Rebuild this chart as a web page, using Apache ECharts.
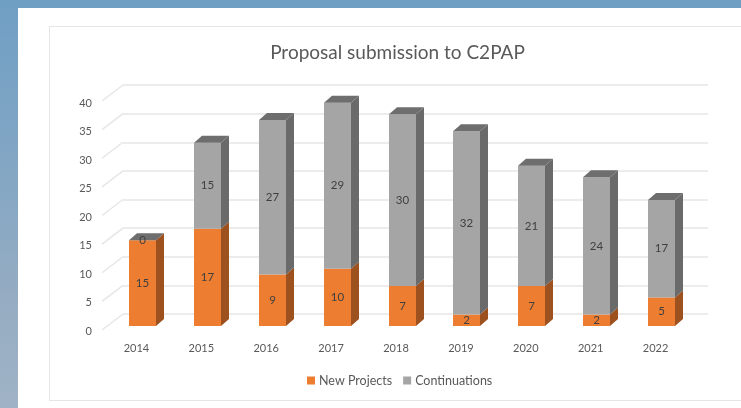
<!DOCTYPE html>
<html>
<head>
<meta charset="utf-8">
<title>Proposal submission to C2PAP</title>
<script src="https://cdn.jsdelivr.net/npm/echarts@6/dist/echarts.min.js"></script>
<style>
html, body { margin: 0; height: 100%; overflow: hidden; }
body { background: linear-gradient(180deg, #6f9fc4 0%, #85a7c4 45%, #95acc2 73%, #a0b3c6 100%); }
#panel { position: absolute; left: 18px; top: 8px; width: 723px; height: 400px; background: #fff; }
#frame { position: absolute; left: 49px; top: 26px; width: 700px; height: 375px; border: 1px solid #e6e6e6; box-sizing: border-box; }
#chart { position: absolute; left: 0; top: 0; width: 741px; height: 408px; filter: blur(0.7px); }
</style>
</head>
<body>
<div id="panel"></div>
<div id="frame"></div>
<div id="chart"></div>
<script>
const years = ['2014', '2015', '2016', '2017', '2018', '2019', '2020', '2021', '2022']
const newProjects = [15, 17, 9, 10, 7, 2, 7, 2, 5]
const continuations = [0, 15, 27, 29, 30, 32, 21, 24, 17]
const yTicks = [0, 5, 10, 15, 20, 25, 30, 35, 40]

const chart = echarts.init(document.getElementById('chart'))

const TEXT = '#595959'
const FONT = 'Lato, "Open Sans", sans-serif'
const DEPTH_X = 8
const DEPTH_Y = 7

// one stacked segment: front face, side face and top face
function renderBar(front, side, top) {
  return function (params, api) {
    const i = api.value(0)
    const base = api.value(1)
    const end = base + api.value(2)
    const p0 = api.coord([i, base])
    const p1 = api.coord([i, end])
    const w = 27
    const x0 = Math.round(p0[0] - w / 2)
    const x1 = x0 + w
    const y0 = p0[1]
    const y1 = p1[1]
    const children = []
    if (y0 - y1 > 0) {
      children.push({
        type: 'polygon',
        shape: { points: [[x1, y0], [x1 + DEPTH_X, y0 - DEPTH_Y], [x1 + DEPTH_X, y1 - DEPTH_Y], [x1, y1]] },
        style: { fill: side }
      })
      children.push({
        type: 'rect',
        shape: { x: x0, y: y1, width: w, height: y0 - y1 },
        style: { fill: front }
      })
    }
    if (top) {
      children.push({
        type: 'polygon',
        shape: { points: [[x0, y1], [x0 + DEPTH_X, y1 - DEPTH_Y], [x1 + DEPTH_X, y1 - DEPTH_Y], [x1, y1]] },
        style: { fill: top }
      })
    }
    children.push({
      type: 'text',
      style: {
        x: (x0 + x1) / 2,
        y: (y0 + y1) / 2,
        text: String(api.value(2)),
        align: 'center',
        verticalAlign: 'middle',
        fill: '#404040',
        font: '11.5px ' + FONT
      }
    })
    return { type: 'group', children }
  }
}

// slanted floor/wall edge at the left of every gridline
function renderDiagonal(params, api) {
  const p = api.coord([0, api.value(0)])
  return {
    type: 'line',
    shape: { x1: p[0], y1: p[1], x2: p[0] - 21, y2: p[1] + 16 },
    style: { stroke: '#e6e6e6', lineWidth: 1.5 }
  }
}

const option = {
  animation: false,
  backgroundColor: 'transparent',
  textStyle: { fontFamily: FONT },
  title: {
    text: 'Proposal submission to C2PAP',
    left: 392.5,
    top: 38,
    textAlign: 'center',
    textStyle: { color: TEXT, fontSize: 19, fontWeight: 'normal', fontFamily: FONT }
  },
  legend: {
    left: 302,
    top: 369,
    itemWidth: 8,
    itemHeight: 8,
    itemGap: 11,
    icon: 'rect',
    data: ['New Projects', 'Continuations'],
    textStyle: { color: TEXT, fontSize: 12.5, fontFamily: FONT, padding: [0, 0, 0, -1] }
  },
  grid: [
    // back wall
    { left: 123, top: 85, width: 585, height: 229 },
    // bars
    { left: 110, top: 97, width: 584, height: 229 },
    // axis labels
    { left: 104, top: 103, width: 584, height: 228 }
  ],
  xAxis: [
    { gridIndex: 0, type: 'value', min: 0, max: 1, show: false },
    { gridIndex: 1, type: 'value', min: -0.5, max: 8.5, show: false },
    {
      gridIndex: 2,
      type: 'category',
      data: years,
      axisLine: { show: false },
      axisTick: { show: false },
      axisLabel: { color: TEXT, fontSize: 11, margin: 12 }
    }
  ],
  yAxis: [
    {
      gridIndex: 0,
      type: 'value',
      min: 0,
      max: 40,
      interval: 5,
      axisLine: { show: false },
      axisTick: { show: false },
      axisLabel: { show: false },
      splitLine: { lineStyle: { color: '#e6e6e6', width: 1.5 } }
    },
    { gridIndex: 1, type: 'value', min: 0, max: 40, show: false },
    {
      gridIndex: 2,
      type: 'value',
      min: 0,
      max: 40,
      interval: 5,
      axisLine: { show: false },
      axisTick: { show: false },
      splitLine: { show: false },
      axisLabel: { color: TEXT, fontSize: 11, margin: 12 }
    }
  ],
  series: [
    {
      type: 'custom',
      xAxisIndex: 0,
      yAxisIndex: 0,
      silent: true,
      data: yTicks.map((v) => [v]),
      encode: { y: 0 },
      renderItem: renderDiagonal
    },
    {
      name: 'New Projects',
      type: 'custom',
      xAxisIndex: 1,
      yAxisIndex: 1,
      itemStyle: { color: '#ed7d31' },
      data: newProjects.map((v, i) => [i, 0, v]),
      renderItem: renderBar('#ed7d31', '#9c511f', null)
    },
    {
      name: 'Continuations',
      type: 'custom',
      xAxisIndex: 1,
      yAxisIndex: 1,
      itemStyle: { color: '#a5a5a5' },
      data: continuations.map((v, i) => [i, newProjects[i], v]),
      renderItem: renderBar('#a5a5a5', '#6a6a6a', '#6e6e6e')
    }
  ]
}

chart.setOption(option)
</script>
</body>
</html>
